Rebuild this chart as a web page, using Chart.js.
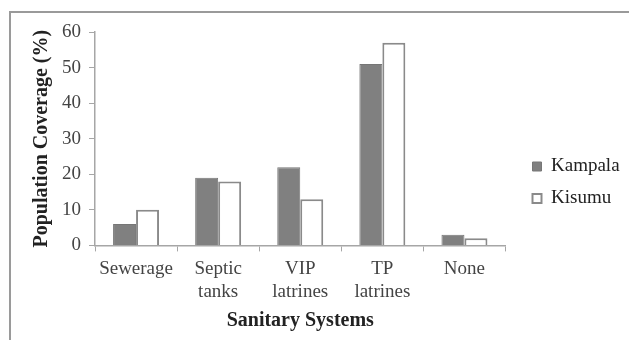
<!DOCTYPE html>
<html>
<head>
<meta charset="utf-8">
<script src="https://cdn.jsdelivr.net/npm/chart.js@4"></script>
<style>
  body { margin: 0; background: #fff; }
  #frame { position: absolute; left: 9px; top: 11px; width: 700px; height: 400px;
           border-left: 2px solid #9a9a9a; border-top: 2px solid #9a9a9a; }
  #wrap { position: absolute; left: 0; top: 0; width: 629px; height: 340px; }
</style>
</head>
<body>
<div id="frame"></div>
<div id="wrap"><canvas id="chart"></canvas></div>
<script>
const categories = ['Sewerage', ['Septic', 'tanks'], ['VIP', 'latrines'], ['TP', 'latrines'], 'None'];
const kampala = [6, 19, 22, 51, 3];
const kisumu = [10, 18, 13, 57, 2];

const serif = "'Liberation Serif', 'Times New Roman', serif";

// legend is measured a bit tight and cuts the last letter, give it some room
const legendRoom = {
    id: 'legendRoom',
    beforeInit(chart) {
        const fit = chart.legend.fit;
        chart.legend.fit = function () {
            fit.call(this);
            this.width += 8;
        };
    }
};

new Chart(document.querySelector('#chart').getContext('2d'), {
    type: 'bar',
    data: {
        labels: categories,
        datasets: [
            {
                label: 'Kampala',
                data: kampala,
                backgroundColor: '#808080',
                borderColor: '#767676',
                borderWidth: 1
            },
            {
                label: 'Kisumu',
                data: kisumu,
                backgroundColor: '#ffffff',
                borderColor: '#8a8a8a',
                borderWidth: 2
            }
        ]
    },
    plugins: [legendRoom],
    options: {
        responsive: true,
        maintainAspectRatio: false,
        animation: false,
        layout: { padding: { left: 30, top: 32, right: 2, bottom: 7 } },
        datasets: { bar: { barPercentage: 1, categoryPercentage: 0.56 } },
        plugins: {
            tooltip: { enabled: false },
            legend: {
                position: 'right',
                labels: {
                    font: { family: serif, size: 19 },
                    color: '#222',
                    boxWidth: 9,
                    boxHeight: 9,
                    padding: 13
                }
            }
        },
        scales: {
            x: {
                grid: { drawOnChartArea: false, color: '#a6a6a6', tickLength: 6 },
                border: { color: '#a6a6a6', width: 1.5 },
                ticks: { font: { family: serif, size: 19 }, color: '#444', maxRotation: 0, padding: 6 },
                title: { display: true, text: 'Sanitary Systems', font: { family: serif, size: 20, weight: 'bold' }, color: '#222', padding: 0 }
            },
            y: {
                min: 0,
                max: 60,
                ticks: { stepSize: 10, font: { family: serif, size: 19 }, color: '#444', padding: 8 },
                grid: { drawOnChartArea: false, color: '#a6a6a6', tickLength: 6 },
                border: { color: '#a6a6a6', width: 1.5 },
                title: { display: true, text: 'Population Coverage (%)', font: { family: serif, size: 20, weight: 'bold' }, color: '#222', padding: 0 }
            },
            // empty axis on the right, only to keep the gap before the legend
            gap: {
                type: 'linear',
                position: 'right',
                grid: { display: false },
                ticks: { display: false },
                border: { display: false },
                afterFit: (scale) => { scale.width = 14; }
            }
        }
    }
});
</script>
</body>
</html>
